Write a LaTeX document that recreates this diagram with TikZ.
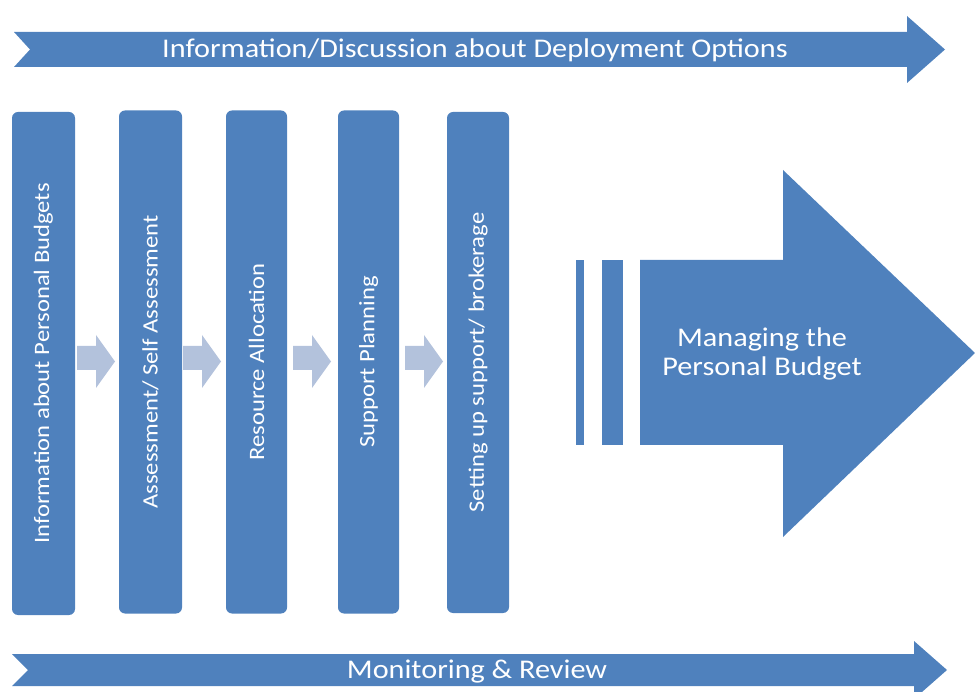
\documentclass[tikz,border=0pt]{standalone}
\usepackage{fontspec}
\setmainfont{Carlito}[FakeStretch=1.12]
\usetikzlibrary{positioning}
\definecolor{barblue}{HTML}{4F81BD}
\definecolor{stepblue}{HTML}{B3C2DC}

\begin{document}
\begin{tikzpicture}[
  x=1pt, y=-1pt,
  banner/.style={fill=barblue},
  stage/.style={fill=barblue, rounded corners=6pt, inner sep=0pt, minimum height=503pt,
                text=white, font=\fontsize{22}{26}\selectfont},
  caption/.style={text=white, inner sep=0pt, font=\fontsize{27}{29}\selectfont},
  stepper/.style={fill=stepblue}
]
\useasboundingbox (0,0) rectangle (975,692);

% --- Top and bottom banners ---
\fill[banner] (14,32) -- (907,32) -- (907,16) -- (945,49.5) -- (907,83)
  -- (907,67) -- (14,67) -- (30,49.5) -- cycle;
\node[caption] (deploy) at (475,50) {Information/Discussion about Deployment Options};

\fill[banner] (12,654) -- (914,654) -- (914,641) -- (947,670) -- (914,699)
  -- (914,686) -- (12,686) -- (28,670) -- cycle;
\node[caption] (monitor) at (477,671.5) {Monitoring \& Review};

% --- Stages (each drawn once) ---
\node[stage, minimum width=63pt] (info)    at (43.5,363.5) {\rotatebox{90}{Information about Personal Budgets}};
\node[stage, minimum width=63pt] (assess)  at (150.5,362)  {\rotatebox{90}{Assessment/ Self Assessment}};
\node[stage, minimum width=61pt] (resource) at (256.5,362) {\rotatebox{90}{Resource Allocation}};
\node[stage, minimum width=61pt] (plan)    at (368.5,362)  {\rotatebox{90}{Support Planning}};
\node[stage, minimum width=62pt, minimum height=501pt] (setup) at (478,362.5) {\rotatebox{90}{Setting up support/ brokerage}};

% --- Step arrows between stages ---
\foreach \x in {77,183,293,405}
  \fill[stepper] (\x,346) -- (\x+19,346) -- (\x+19,335) -- (\x+38,361.5)
    -- (\x+19,388) -- (\x+19,370) -- (\x,370) -- cycle;

% --- Big arrow ---
\fill[banner] (576,260) rectangle (584,445);
\fill[banner] (602,260) rectangle (623,445);
\fill[banner] (640,260) -- (783,260) -- (783,170) -- (975,353) -- (783,537)
  -- (783,445) -- (640,445) -- cycle;
\node[caption, align=center] (manage) at (762,354)
  {Managing the\\Personal Budget};

\end{tikzpicture}
\end{document}
